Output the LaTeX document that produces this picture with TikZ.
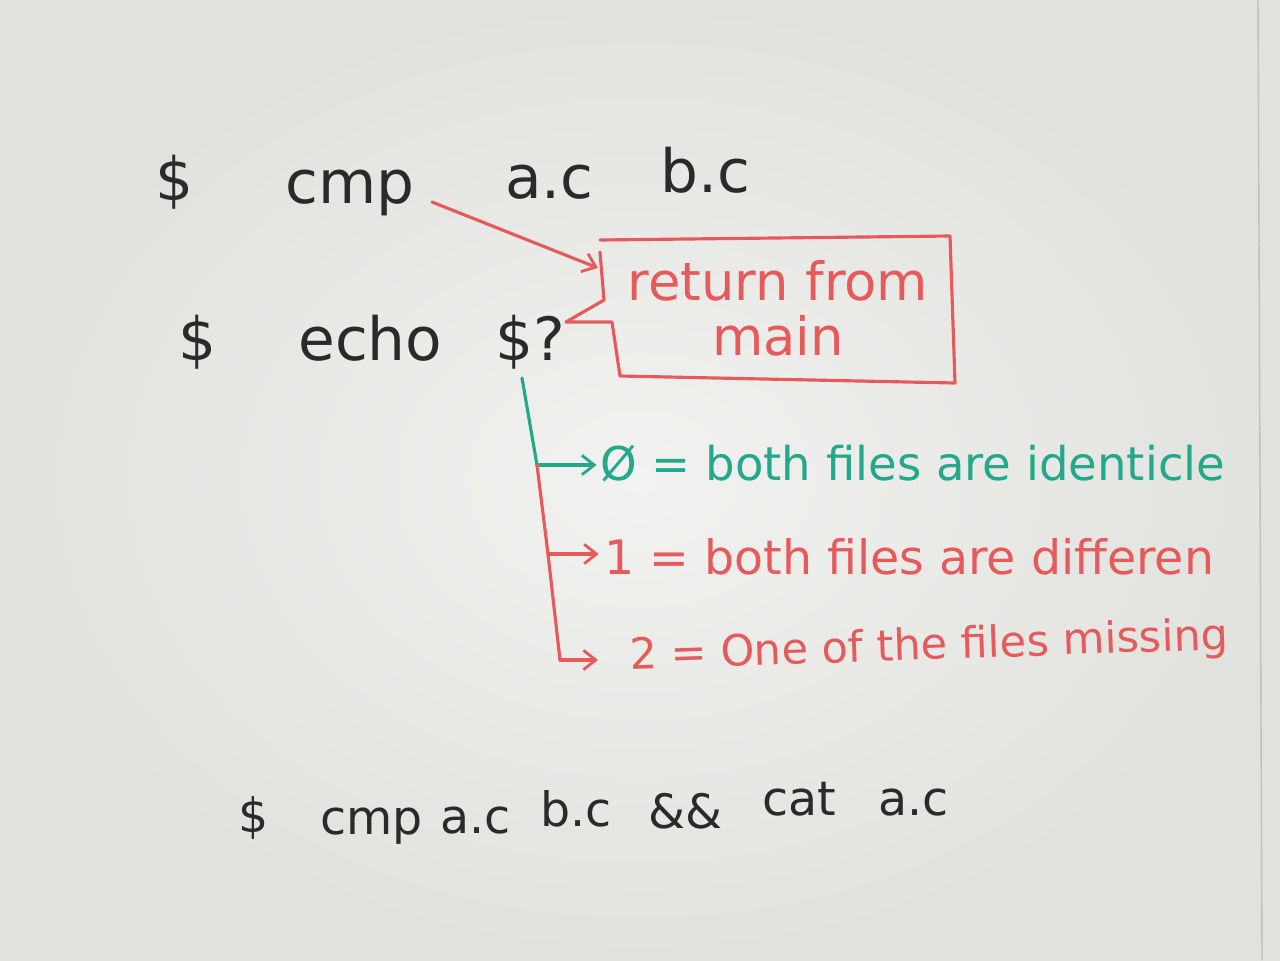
\documentclass[tikz,border=0pt]{standalone}
\usepackage{fontspec}
\setmainfont{DejaVu Sans}
\usetikzlibrary{arrows.meta}
\definecolor{ink}{HTML}{2A2A2A}
\definecolor{redink}{HTML}{E65A5C}
\definecolor{greenink}{HTML}{23A88B}
\definecolor{boardin}{HTML}{F2F2F0}
\definecolor{boardout}{HTML}{E1E2DE}
\begin{document}
\begin{tikzpicture}[x=0.02cm,y=-0.02cm,
  blk/.style={text=ink, inner sep=0pt, anchor=base west, font=\fontsize{34}{40}\selectfont},
  blks/.style={text=ink, inner sep=0pt, anchor=base west, font=\fontsize{27}{32}\selectfont},
  redtxt/.style={text=redink, inner sep=0pt, anchor=base, font=\fontsize{30}{36}\selectfont},
  grntxt/.style={text=greenink, inner sep=0pt, anchor=base west, font=\fontsize{26.5}{32}\selectfont},
  rtxt/.style={text=redink, inner sep=0pt, anchor=base west, font=\fontsize{27}{32}\selectfont},
  rtxtb/.style={text=redink, inner sep=0pt, anchor=base west, font=\fontsize{24.5}{30}\selectfont},
  marker/.style={line width=1.8pt, line cap=round, line join=round},
  tip/.style={-{Straight Barb[length=7pt,width=11pt,line width=1.6pt]}}
]
\shade[inner color=boardin, outer color=boardout] (0,0) rectangle (1280,960);
\useasboundingbox (0,0) rectangle (1280,960);
\draw[boardout!85!black, line width=0.8pt] (1258,0) -- (1262,960);

% line 1
\node[blk] (d1) at (155,200) {\$};
\node[blk] (cmp1) at (285,203) {cmp};
\node[blk] (ac1) at (505,198) {a.c};
\node[blk] (bc1) at (660,192) {b.c};

% line 2
\node[blk] (d2) at (178,360) {\$};
\node[blk] (echo) at (298,360) {echo};
\node[blk] (q) at (495,360) {\$?};

% box
\node[redtxt] (ret) at (778,300) {return from};
\node[redtxt] (main) at (778,355) {main};
\draw[redink, marker] (600,240) -- (950,236) -- (955,383) -- (620,376) -- (612,322)
  -- (566,322) -- (604,300) -- (600,252);

% arrow from cmp to box
\coordinate (a0) at (432,202);
\coordinate (a1) at (598,268);
\draw[redink, marker, tip] (a0) -- (a1);

% branches
\node[grntxt] (zero) at (600,480) {Ø = both files are identicle};
\node[rtxt] (one) at (604,574) {1 = both files are differen};
\node[rtxtb, rotate=2] (two) at (630,670) {2 = One of the files missing};

\coordinate (g0) at (522,378);
\coordinate (j1) at (537,465);
\coordinate (j2) at (548,554);
\coordinate (j3) at (560,660);
\draw[greenink, marker] (g0) -- (j1);
\draw[greenink, marker, tip] (j1) -- ([xshift=-2pt]j1 -| zero.west);
\draw[redink, marker] (j1) -- (j2) -- (j3);
\draw[redink, marker, tip] (j2) -- ([xshift=-3pt]j2 -| one.west);
\draw[redink, marker, tip] (j3) -- ([xshift=-18pt]j3 -| two.west);

% bottom line
\node[blks] (d3) at (238,832) {\$};
\node[blks] (cmp3) at (320,834) {cmp};
\node[blks] (ac3) at (440,833) {a.c};
\node[blks] (bc3) at (540,826) {b.c};
\node[blks] (amp) at (648,828) {\&\&};
\node[blks] (cat) at (762,815) {cat};
\node[blks] (ac4) at (878,815) {a.c};
\end{tikzpicture}
\end{document}
